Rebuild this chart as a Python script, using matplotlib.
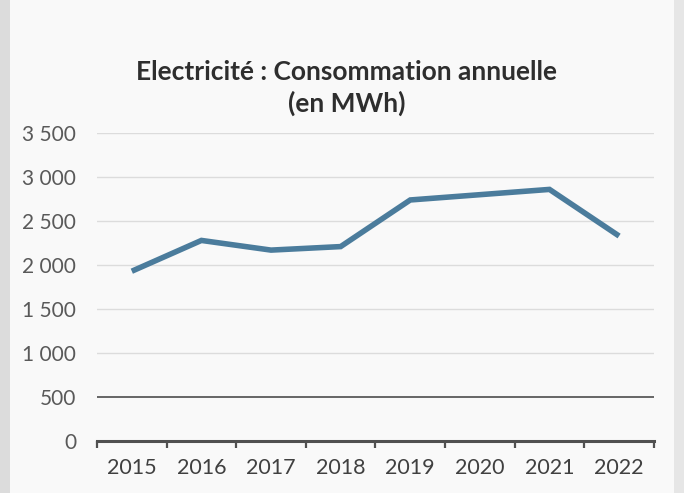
import matplotlib
matplotlib.use("Agg")
import matplotlib.pyplot as plt
from matplotlib.patches import Rectangle
from matplotlib.ticker import FuncFormatter, FixedLocator

# Annual electricity consumption (MWh)
years = ["2015", "2016", "2017", "2018", "2019", "2020", "2021", "2022"]
consumption = [1930, 2280, 2170, 2210, 2740, 2800, 2860, 2330]
y_ticks = [0, 500, 1000, 1500, 2000, 2500, 3000, 3500]
title = "Electricité : Consommation annuelle\n(en MWh)"

plt.rcParams["font.family"] = ["Lato", "DejaVu Sans"]

fig = plt.figure(figsize=(6.84, 4.93), dpi=100)
fig.patch.set_facecolor("#f9f9f9")
# darker paper edges
fig.patches.append(Rectangle((0, 0), 0.014, 1, transform=fig.transFigure,
                             facecolor="#dcdcdc", edgecolor="none", zorder=0))
fig.patches.append(Rectangle((0.985, 0), 0.015, 1, transform=fig.transFigure,
                             facecolor="#e6e6e6", edgecolor="none", zorder=0))

ax = fig.add_axes([0.1418, 0.1055, 0.8142, 0.6245])
ax.set_facecolor("none")

x = list(range(len(years)))
ax.plot(x, consumption, color="#4b7c9c", linewidth=4.0,
        solid_joinstyle="miter", solid_capstyle="butt", zorder=3)

ax.set_xlim(-0.5, len(years) - 0.5)
ax.set_ylim(0, 3500)

# horizontal grid
for v in y_ticks[1:]:
    col = "#5a5a5a" if v == 500 else "#dcdcdc"
    lw = 1.3 if v == 500 else 1.0
    ax.axhline(v, color=col, linewidth=lw, zorder=1)

for s in ["top", "right", "left"]:
    ax.spines[s].set_visible(False)
ax.spines["bottom"].set_color("#505050")
ax.spines["bottom"].set_linewidth(2.2)

ax.set_yticks(y_ticks)
ax.yaxis.set_major_formatter(FuncFormatter(lambda v, p: f"{int(v):,}".replace(",", " ")))
ax.tick_params(axis="y", length=0, pad=15, labelsize=15, labelcolor="#595959")

ax.set_xticks(x)
ax.set_xticklabels(years)
ax.tick_params(axis="x", which="major", length=0, pad=12, labelsize=15.5, labelcolor="#404040")
ax.xaxis.set_minor_locator(FixedLocator([i - 0.5 for i in range(len(years) + 1)]))
ax.tick_params(axis="x", which="minor", length=5, width=1.6, color="#505050", direction="out")

fig.text(0.507, 0.822, title, ha="center", va="center", fontsize=19,
         fontweight="bold", color="#2e2e2e", linespacing=1.3)

fig.savefig("out.png", dpi=100, facecolor=fig.get_facecolor())
